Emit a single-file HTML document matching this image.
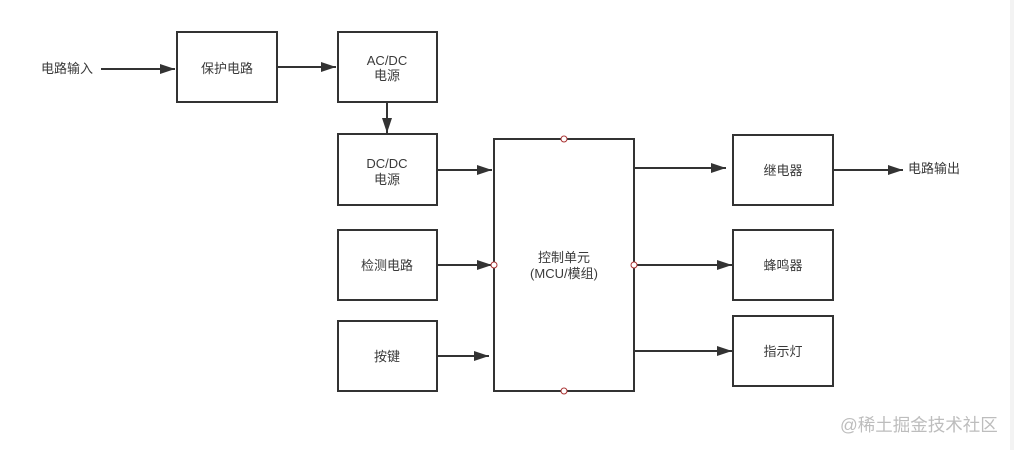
<!DOCTYPE html>
<html><head><meta charset="utf-8"><style>
html,body{margin:0;padding:0;background:#fff;}
body{width:1015px;height:450px;overflow:hidden;position:relative;}
svg{position:absolute;left:0;top:0;}
text{font-family:"Liberation Sans","Noto Sans CJK SC",sans-serif;font-size:13px;fill:#3a3a3a;}
</style></head><body>
<svg width="1015" height="450" viewBox="0 0 1015 450" xmlns="http://www.w3.org/2000/svg">
<defs>
<marker id="ah" markerWidth="16" markerHeight="10" refX="15" refY="5" orient="auto" markerUnits="userSpaceOnUse">
<path d="M0,0 L15,5 L0,10 Z" fill="#333"/>
</marker>
</defs>
<rect x="1010" y="0" width="4" height="450" fill="#f3f3f3"/>
<g fill="none" stroke="#333" stroke-width="2">
<rect x="177" y="32" width="100" height="70"/>
<rect x="338" y="32" width="99" height="70"/>
<rect x="338" y="134" width="99" height="71"/>
<rect x="338" y="230" width="99" height="70"/>
<rect x="338" y="321" width="99" height="70"/>
<rect x="494" y="139" width="140" height="252"/>
<rect x="733" y="135" width="100" height="70"/>
<rect x="733" y="230" width="100" height="70"/>
<rect x="733" y="316" width="100" height="70"/>
</g>
<g stroke="#333" stroke-width="2" marker-end="url(#ah)">
<line x1="101" y1="69" x2="175" y2="69"/>
<line x1="277" y1="67" x2="336" y2="67"/>
<line x1="387" y1="102" x2="387" y2="133"/>
<line x1="437" y1="170" x2="492" y2="170"/>
<line x1="437" y1="265" x2="492" y2="265"/>
<line x1="437" y1="356" x2="489" y2="356"/>
<line x1="634" y1="168" x2="726" y2="168"/>
<line x1="634" y1="265" x2="732" y2="265"/>
<line x1="634" y1="351" x2="732" y2="351"/>
<line x1="833" y1="170" x2="903" y2="170"/>
</g>
<g fill="#fff" stroke="#a33" stroke-width="1">
<circle cx="564" cy="139" r="3"/>
<circle cx="564" cy="391" r="3"/>
<circle cx="494" cy="265" r="3"/>
<circle cx="634" cy="265" r="3"/>
</g>
<text x="41" y="73">电路输入</text>
<text x="227" y="73" text-anchor="middle">保护电路</text>
<text x="387" y="65" text-anchor="middle">AC/DC</text>
<text x="387" y="80" text-anchor="middle">电源</text>
<text x="387" y="168" text-anchor="middle">DC/DC</text>
<text x="387" y="184" text-anchor="middle">电源</text>
<text x="387" y="270" text-anchor="middle">检测电路</text>
<text x="387" y="361" text-anchor="middle">按键</text>
<text x="564" y="262" text-anchor="middle">控制单元</text>
<text x="564" y="278" text-anchor="middle">(MCU/模组)</text>
<text x="783" y="175" text-anchor="middle">继电器</text>
<text x="783" y="270" text-anchor="middle">蜂鸣器</text>
<text x="783" y="356" text-anchor="middle">指示灯</text>
<text x="908" y="173">电路输出</text>
<text x="840" y="431" style="font-size:17.5px;fill:#bdbdbd;">@稀土掘金技术社区</text>
</svg>
</body></html>
